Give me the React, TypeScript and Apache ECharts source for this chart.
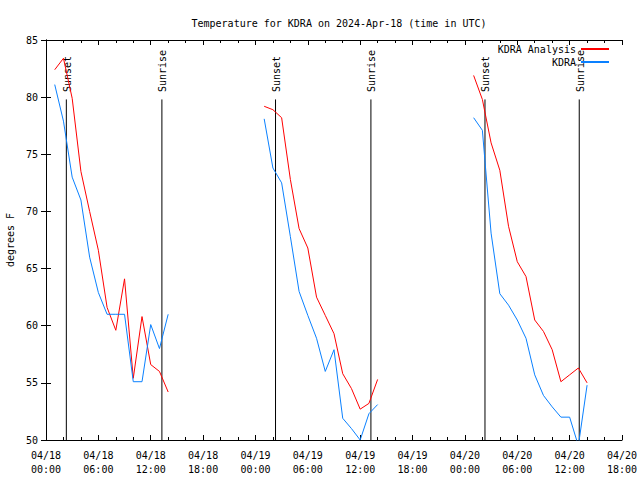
import React, { useEffect, useRef } from "react";
import * as echarts from "echarts";

// hours since 2024-04-18 00:00 UTC
const day1Hours = [1, 2, 3, 4, 5, 6, 7, 8, 9, 10, 11, 12, 13, 14];
const day2Hours = [25, 26, 27, 28, 29, 30, 31, 32, 33, 34, 35, 36, 37, 38];
const day3Hours = [49, 50, 51, 52, 53, 54, 55, 56, 57, 58, 59, 60, 61, 62];

const analysisDay1 = [82.4, 83.4, 79.9, 73.5, 70.0, 66.6, 61.6, 59.6, 64.1, 55.4, 60.8, 56.6, 56.0, 54.2];
const analysisDay2 = [79.2, 78.9, 78.2, 72.8, 68.5, 66.8, 62.5, 60.9, 59.3, 55.8, 54.5, 52.7, 53.2, 55.3];
const analysisDay3 = [81.9, 79.8, 76.0, 73.6, 68.7, 65.6, 64.3, 60.5, 59.5, 57.9, 55.1, 55.7, 56.3, 55.0];

const obsDay1 = [81.1, 77.9, 73.0, 71.0, 66.0, 62.9, 61.0, 61.0, 61.0, 55.1, 55.1, 60.1, 58.0, 61.0];
const obsDay2 = [78.1, 73.8, 72.5, 67.8, 63.0, 60.9, 58.9, 56.0, 57.9, 51.9, 51.0, 50.0, 52.3, 53.1];
const obsDay3 = [78.2, 77.1, 68.1, 62.8, 61.8, 60.5, 58.9, 55.7, 53.9, 52.9, 52.0, 52.0, 49.5, 54.8];

const eventHours = [2.33, 13.28, 26.3, 37.23, 50.3, 61.1];
const eventLabels = ["Sunset", "Sunrise", "Sunset", "Sunrise", "Sunset", "Sunrise"];

const seriesNames = ["KDRA Analysis", "KDRA"];
const titleText = "Temperature for KDRA on 2024-Apr-18 (time in UTC)";
const yAxisName = "degrees F";

const FONT = "DejaVu Sans Mono";

function buildData(hours: number[][], values: number[][]) {
  const out: (number | null)[][] = [];
  hours.forEach((hs, d) => {
    if (d > 0) out.push([hs[0] - 1, null]);
    hs.forEach((h, i) => out.push([h, values[d][i]]));
  });
  return out;
}

export default function App() {
  const ref = useRef<HTMLDivElement>(null);
  useEffect(() => {
    if (!ref.current) return;
    const chart = echarts.init(ref.current, null, { renderer: "svg" });
    const hours = [day1Hours, day2Hours, day3Hours];
    const xFormatter = (v: number) => {
      const day = 18 + Math.floor(v / 24);
      const hh = v % 24;
      return `04/${day}\n${hh < 10 ? "0" + hh : hh}:00`;
    };
    const textStyle = { fontFamily: FONT, fontSize: 10, color: "#000" };
    const xCommon = {
      type: "value",
      min: 0,
      max: 66,
      interval: 6,
      splitLine: { show: false },
      axisLine: { show: true, lineStyle: { color: "#000", width: 1 } },
      axisTick: { show: true, inside: true, length: 5, lineStyle: { color: "#000" } },
      minorTick: { show: true, splitNumber: 3, length: 3, lineStyle: { color: "#000" } },
      minorSplitLine: { show: false },
    };
    const yCommon = {
      type: "value",
      min: 50,
      max: 85,
      interval: 5,
      splitLine: { show: false },
      axisLine: { show: true, lineStyle: { color: "#000", width: 1 } },
      axisTick: { show: true, inside: true, length: 5, lineStyle: { color: "#000" } },
    };
    const legendCommon = {
      right: 30,
      padding: 0,
      align: "right",
      itemWidth: 28,
      itemHeight: 10,
      textStyle,
      itemStyle: { opacity: 0 },
    };
    chart.setOption({
      animation: false,
      backgroundColor: "#fff",
      title: {
        text: titleText,
        left: 334,
        top: 13,
        textAlign: "center",
        textStyle: { fontFamily: FONT, fontSize: 10, fontWeight: "normal", color: "#000" },
      },
      legend: [
        { ...legendCommon, data: [seriesNames[0]], top: 44 },
        { ...legendCommon, data: [seriesNames[1]], top: 57 },
      ],
      grid: {
        left: 46,
        right: 18,
        top: 40,
        bottom: 40,
        containLabel: false,
        outerBoundsMode: "none",
      },
      xAxis: [
        {
          ...xCommon,
          position: "bottom",
          axisLabel: { ...textStyle, margin: 8, lineHeight: 14, formatter: xFormatter },
        },
        { ...xCommon, position: "top", axisLabel: { show: false } },
      ],
      yAxis: [
        {
          ...yCommon,
          position: "left",
          name: yAxisName,
          nameLocation: "middle",
          nameGap: 29,
          nameRotate: 90,
          nameTextStyle: { fontFamily: FONT, fontSize: 10, color: "#000" },
          axisLabel: { ...textStyle, margin: 8 },
        },
        { ...yCommon, position: "right", axisLabel: { show: false } },
      ],
      series: [
        {
          name: seriesNames[0],
          type: "line",
          symbol: "none",
          connectNulls: false,
          color: "#ff0000",
          lineStyle: { color: "#ff0000", width: 1 },
          data: buildData(hours, [analysisDay1, analysisDay2, analysisDay3]),
        },
        {
          name: seriesNames[1],
          type: "line",
          symbol: "none",
          connectNulls: false,
          color: "#0a80ff",
          lineStyle: { color: "#0a80ff", width: 1 },
          data: buildData(hours, [obsDay1, obsDay2, obsDay3]),
        },
        {
          name: "events",
          type: "custom",
          clip: false,
          encode: { x: 0, y: 1 },
          data: eventHours.map((h) => [h, 50]),
          renderItem: (params: any, api: any) => {
            const x = api.value(0);
            const top = api.coord([x, 79.8]);
            const bottom = api.coord([x, 50]);
            const lab = api.coord([x, 80.45]);
            return {
              type: "group",
              children: [
                {
                  type: "line",
                  shape: { x1: top[0], y1: top[1], x2: bottom[0], y2: bottom[1] },
                  style: { stroke: "#000", lineWidth: 1 },
                },
                {
                  type: "text",
                  x: lab[0] + 1,
                  y: lab[1],
                  rotation: Math.PI / 2,
                  style: {
                    text: eventLabels[params.dataIndex],
                    fontFamily: FONT,
                    fontSize: 10,
                    fill: "#000",
                    align: "left",
                    verticalAlign: "middle",
                  },
                },
              ],
            };
          },
        },
      ],
    });
    return () => chart.dispose();
  }, []);
  return (
    <div
      ref={ref}
      style={{ position: "fixed", left: 0, top: 0, width: 640, height: 480, background: "#fff" }}
    />
  );
}
